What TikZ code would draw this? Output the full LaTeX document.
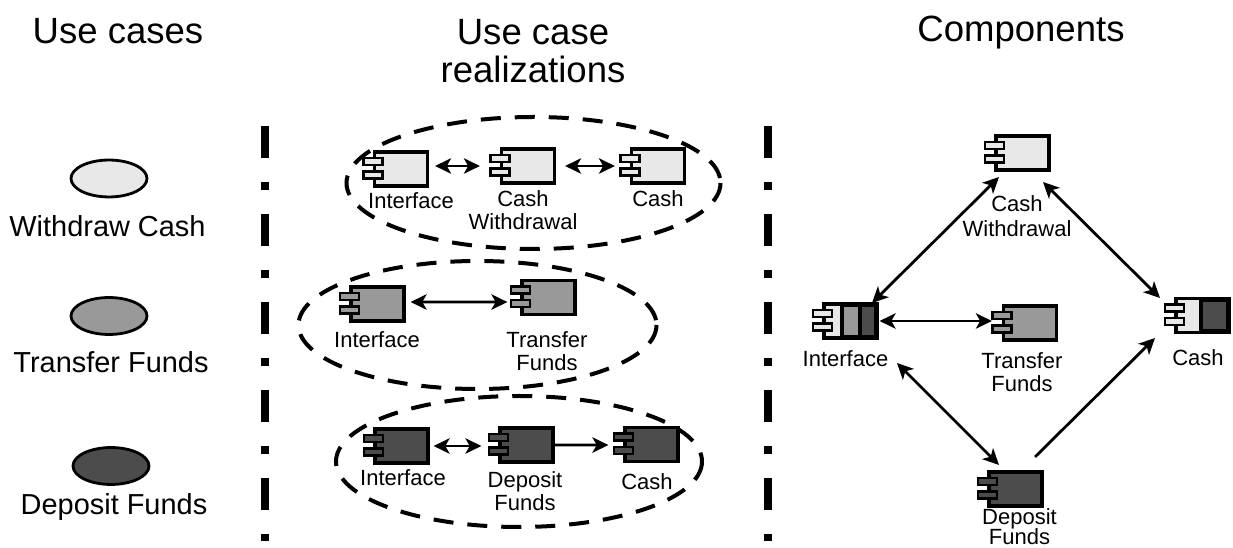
\documentclass[tikz,border=0pt]{standalone}
\usepackage{fontspec}
\setmainfont{Liberation Sans}
\usetikzlibrary{arrows.meta,calc,shapes.geometric}
\definecolor{lightfill}{gray}{0.91}
\definecolor{midfill}{gray}{0.6}
\definecolor{darkfill}{gray}{0.3}
\tikzset{
    compbody/.style={draw,line width=2.4pt,minimum width=39.7pt,minimum height=25.5pt,inner sep=0pt},
    comppin/.style={draw,line width=2.1pt,minimum width=14.2pt,minimum height=5.2pt,inner sep=0pt},
    segment/.style={draw,line width=2.4pt},
    usecase/.style={draw,line width=2.1pt,ellipse,minimum width=57pt,minimum height=27.7pt,inner sep=0pt},
    group/.style={line width=3pt,dash pattern=on 15pt off 10.5pt},
    divider/.style={line width=6pt,dash pattern=on 24pt off 18pt on 6pt off 18pt},
    link/.style={line width=2.1pt,>={Stealth[length=12pt,width=11.5pt,inset=3.2pt]}},
    heading/.style={font=\fontsize{27.4pt}{28.5pt}\selectfont,align=center,inner sep=0pt},
    casetext/.style={font=\fontsize{21.7pt}{26pt}\selectfont,inner sep=0pt},
    label/.style={font=\fontsize{16.5pt}{17pt}\selectfont,align=center,inner sep=0pt},
}
\newcommand{\comp}[4]{%
    \node[compbody,fill=#4] (#1) at (#2,#3) {};
    \node[comppin,fill=#4] (#1top) at ($(#1.west)+(0,-7.5)$) {};
    \node[comppin,fill=#4] (#1bot) at ($(#1.west)+(0,6)$) {};
}
\begin{document}
\begin{tikzpicture}[x=0.75pt,y=-0.75pt]
    \useasboundingbox (0,0) rectangle (1233,548);
    % headings
    \node[heading] (headcases) at (118,31) {Use cases};
    \node[heading] (headreal) at (533,51) {Use case\\realizations};
    \node[heading] (headcomp) at (1021,33) {Components};
    % dividers
    \coordinate (divAtop) at (265,126);
    \coordinate (divAend) at (265,541);
    \coordinate (divBtop) at (768,126);
    \coordinate (divBend) at (768,541);
    \draw[divider] (divAtop) -- (divAend);
    \draw[divider] (divBtop) -- (divBend);
    % use cases
    \node[usecase,fill=lightfill] (caseW) at (109,178.5) {};
    \node[usecase,fill=midfill] (caseT) at (109,316) {};
    \node[usecase,fill=darkfill] (caseD) at (111,466) {};
    \node[casetext] (textW) at (107.5,226) {Withdraw Cash};
    \node[casetext] (textT) at (111,362) {Transfer Funds};
    \node[casetext] (textD) at (114,507) {Deposit Funds};
    % first realization
    \draw[group] (533.5,183) ellipse [x radius=187,y radius=66];
    \comp{wifc}{401}{169}{lightfill}
    \comp{wcwd}{528}{166}{lightfill}
    \comp{wcsh}{658}{166}{lightfill}
    \node[label] (wifcT) at (411,201) {Interface};
    \node[label] (wcwdT) at (523,210) {Cash\\Withdrawal};
    \node[label] (wcshT) at (658,199) {Cash};
    \draw[link,<->] ([xshift=4.5pt,yshift=2.25pt]wifc.east) -- ([xshift=-15pt]wcwd.west);
    \draw[link,<->] ([xshift=6.75pt]wcwd.east) -- ([xshift=-11.25pt]wcsh.west);
    % second realization
    \draw[group] (477.5,325) ellipse [x radius=179,y radius=64];
    \comp{tifc}{377.5}{304}{midfill}
    \comp{ttrf}{548.5}{297.5}{midfill}
    \node[label] (tifcT) at (377,340) {Interface};
    \node[label] (ttrfT) at (547,351) {Transfer\\Funds};
    \draw[link,<->] ([xshift=3.75pt,yshift=1.5pt]tifc.east) -- ([xshift=-9.75pt,yshift=-3.4pt]ttrf.west);
    % third realization
    \draw[group] (519,461.5) ellipse [x radius=183,y radius=65.5];
    \comp{difc}{401.5}{446}{darkfill}
    \comp{ddep}{526.5}{445}{darkfill}
    \comp{dcsh}{651.5}{444.5}{darkfill}
    \node[label] (difcT) at (403,478) {Interface};
    \node[label] (ddepT) at (525,491) {Deposit\\Funds};
    \node[label] (dcshT) at (647,482) {Cash};
    \draw[link,<->] ([xshift=3pt]difc.east) -- ([xshift=-12.75pt,yshift=-0.75pt]ddep.west);
    \draw[link,->] (ddep.east) -- ([xshift=-11.25pt,yshift=-0.4pt]dcsh.west);
    % components
    \comp{compW}{1022.5}{153}{lightfill}
    \comp{compT}{1030}{323}{midfill}
    \comp{compD}{1015.5}{489}{darkfill}
    \comp{compI}{850.5}{321}{lightfill}
    \draw[segment,fill=midfill] (842,305.5) rectangle (860,336.5);
    \draw[segment,fill=darkfill] (860,305.5) rectangle (875.5,336.5);
    \comp{compC}{1202.5}{315.5}{lightfill}
    \draw[segment,fill=darkfill] (1201,300) rectangle (1227.5,331);
    \node[label] (compWT) at (1017,216) {Cash\\[1.5pt]Withdrawal};
    \node[label] (compIT) at (845.5,359) {Interface};
    \node[label] (compTT) at (1022,372) {Transfer\\Funds};
    \node[label] (compCT) at (1198,358) {Cash};
    \node[label] (compDT) at (1019.5,527) {Deposit\\[-2pt]Funds};
    % links between components
    \coordinate (endWI) at (999,177);
    \coordinate (endIW) at (872,303);
    \coordinate (endWC) at (1043,182);
    \coordinate (endCW) at (1160,298);
    \coordinate (endID) at (897,363);
    \coordinate (endDI) at (999,465);
    \coordinate (endDC) at (1035,457);
    \coordinate (endCD) at (1155,338);
    \draw[link,<->] (endWI) -- (endIW);
    \draw[link,<->] (endWC) -- (endCW);
    \draw[link,<->] ([xshift=0.75pt]compI.east) -- ([xshift=-7.5pt,yshift=1.5pt]compT.west);
    \draw[link,<->] (endID) -- (endDI);
    \draw[link,->] (endDC) -- (endCD);
\end{tikzpicture}
\end{document}
